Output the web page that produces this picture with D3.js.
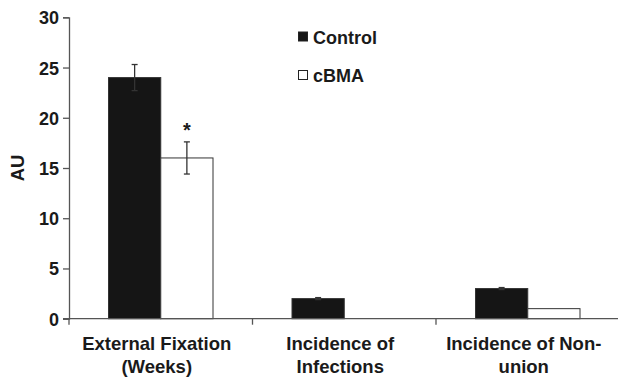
<!DOCTYPE html>
<html><head><meta charset="utf-8">
<script src="https://cdn.jsdelivr.net/npm/d3@7"></script>
<style>body{margin:0;background:#fff}svg{display:block}text{font-family:"Liberation Sans",Arial,sans-serif;font-weight:bold;fill:#1a1a1a}</style>
</head><body>
<svg id="c" width="618" height="379"></svg>
<script>
const categories = [["External Fixation","(Weeks)"],["Incidence of","Infections"],["Incidence of Non-","union"]];
const seriesNames = ["Control","cBMA"];
const controlValues = [24, 2, 3];
const cbmaValues = [16, 0, 1];
const controlErrors = [1.3, 0.1, 0.1];
const cbmaErrors = [1.6, 0, 0];
const yTicks = [0,5,10,15,20,25,30];

const svg = d3.select("#c");
const mLeft = 69, mRight = 619.5, mTop = 17.3, mBottom = 318.7;
const y = d3.scaleLinear().domain([0,30]).range([mBottom, mTop]);
const x0 = d3.scaleBand().domain(d3.range(categories.length)).range([mLeft, mRight]);
const groupW = 104.5;
const x1 = d3.scaleBand().domain([0,1]).range([0, groupW]);
const axisColor = "#555";

const series = [controlValues, cbmaValues];
const errs = [controlErrors, cbmaErrors];
const fills = ["#151515", "#ffffff"];
series.forEach((vals, s) => {
  svg.append("g").selectAll("rect").data(vals).join("rect")
    .attr("x", (d,i) => x0(i) + (x0.bandwidth()-groupW)/2 + x1(s))
    .attr("y", d => y(d))
    .attr("width", x1.bandwidth())
    .attr("height", d => mBottom - y(d))
    .attr("fill", fills[s])
    .attr("stroke", d => d > 0 ? "#333" : "none")
    .attr("stroke-width", 1);
});

series.forEach((vals, s) => {
  const g = svg.append("g").attr("stroke", "#333").attr("stroke-width", 1.3);
  vals.forEach((v, i) => {
    const e = errs[s][i];
    if (e <= 0) return;
    const cx = x0(i) + (x0.bandwidth()-groupW)/2 + x1(s) + x1.bandwidth()/2;
    g.append("line").attr("x1", cx).attr("x2", cx).attr("y1", y(v+e)).attr("y2", y(v-e));
    g.append("line").attr("x1", cx-3).attr("x2", cx+3).attr("y1", y(v+e)).attr("y2", y(v+e));
    g.append("line").attr("x1", cx-3).attr("x2", cx+3).attr("y1", y(v-e)).attr("y2", y(v-e));
  });
});

{
  const cx = x0(0) + (x0.bandwidth()-groupW)/2 + x1(1) + x1.bandwidth()/2;
  svg.append("text").attr("x", cx).attr("y", y(cbmaValues[0]+cbmaErrors[0]) - 5)
    .attr("text-anchor","middle").attr("font-size", 20).text("*");
}

const yAxis = svg.append("g").attr("transform", `translate(${mLeft},0)`)
  .call(d3.axisLeft(y).tickValues(yTicks).tickSize(6).tickPadding(4));
yAxis.select(".domain").attr("stroke", axisColor).attr("stroke-width", 1.3);
yAxis.selectAll(".tick line").attr("stroke", axisColor).attr("stroke-width", 1.3);
yAxis.selectAll(".tick text").attr("font-size", 18).attr("font-family", '"Liberation Sans",Arial,sans-serif').attr("font-weight","bold").attr("fill","#1a1a1a").attr("dy","0.36em");

const xAxis = svg.append("g").attr("transform", `translate(0,${mBottom})`);
xAxis.append("line").attr("x1", mLeft-6).attr("x2", mRight).attr("y1", 0).attr("y2", 0)
  .attr("stroke", axisColor).attr("stroke-width", 1.3);
xAxis.selectAll("line.t").data(d3.range(categories.length)).join("line").attr("class","t")
  .attr("x1", d => x0(d)).attr("x2", d => x0(d)).attr("y1", 0).attr("y2", 6)
  .attr("stroke", axisColor).attr("stroke-width", 1.3);
categories.forEach((lines, i) => {
  const cx = x0(i) + x0.bandwidth()/2 - 4;
  lines.forEach((t, j) => {
    svg.append("text").attr("x", cx).attr("y", 349.5 + j*23.5).attr("text-anchor","middle")
      .attr("font-size", 18.5).text(t);
  });
});

svg.append("text").attr("transform", "translate(24,168) rotate(-90)").attr("text-anchor","middle")
  .attr("font-size", 18.5).text("AU");

seriesNames.forEach((n, s) => {
  const ly = 32 + s*38.5;
  svg.append("rect").attr("x", 298.5).attr("y", ly).attr("width", 9).attr("height", 9)
    .attr("fill", fills[s]).attr("stroke", "#222").attr("stroke-width", 1);
  svg.append("text").attr("x", 313).attr("y", ly + 11.5).attr("font-size", 18).text(n);
});
</script>
</body></html>
